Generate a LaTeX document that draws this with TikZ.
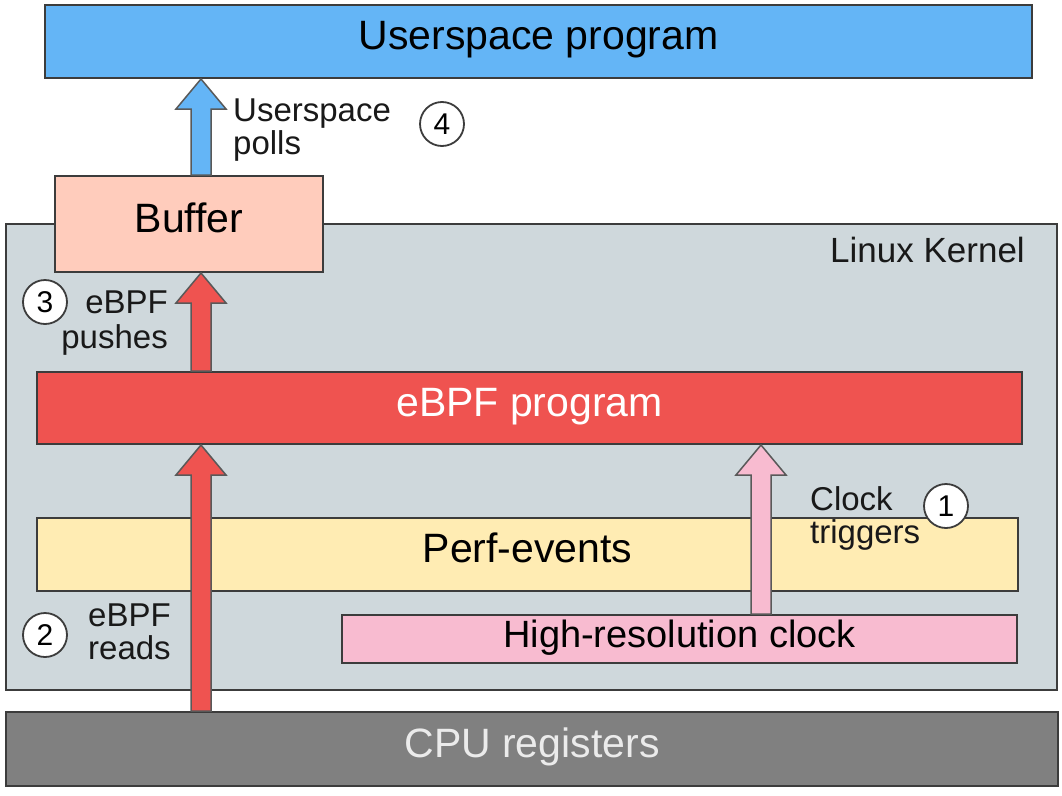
\documentclass[tikz,border=0pt]{standalone}
\usepackage{fontspec}
\setmainfont{Liberation Sans}
\usetikzlibrary{calc}

\definecolor{userblue}{HTML}{64B5F6}
\definecolor{buffersalmon}{HTML}{FFCCBC}
\definecolor{kernelgrey}{HTML}{CFD8DC}
\definecolor{ebpfred}{HTML}{EF5350}
\definecolor{perfyellow}{HTML}{FFECB3}
\definecolor{clockpink}{HTML}{F8BBD0}
\definecolor{cpugrey}{HTML}{808080}
\definecolor{edge}{HTML}{3C3C3C}

\newcommand\fatarrow[4]{%
  \filldraw [fill=#1, draw=edge!85, line width=1.5pt, line join=miter]
    let \p1=(#3.north), \p2=(#4.south) in
    ({#2pt-10pt},\y1) -- ({#2pt-10pt},{\y2-30pt}) -- ({#2pt-25pt},{\y2-30pt})
    -- ({#2pt},\y2) -- ({#2pt+25pt},{\y2-30pt}) -- ({#2pt+10pt},{\y2-30pt})
    -- ({#2pt+10pt},\y1) -- cycle;}

\begin{document}
\begin{tikzpicture}[x=1pt, y=-1pt,
    box/.style={draw=edge, line width=2pt, rectangle, inner sep=0pt, text height=30pt, text depth=14pt},
    big/.style={font=\fontsize{41}{45}\selectfont},
    lbl/.style={font=\fontsize{33}{33}\selectfont, inner sep=0pt, text=black!90},
    num/.style={draw=edge, line width=1.8pt, circle, fill=white, minimum size=44pt,
      inner sep=0pt, font=\fontsize{30}{30}\selectfont}]

    \useasboundingbox (0,0) rectangle (1062,795);

    \node [box, fill=kernelgrey, minimum width=1051, minimum height=466] (kernel) at (531.5,457) {};
    \node [lbl, font=\fontsize{35}{35}\selectfont, anchor=base east] (kernellbl) at (1025,262) {Linux Kernel};

    \node [box, big, fill=userblue, minimum width=987, minimum height=73] (user) at (538.5,41.5) {Userspace program};
    \node [box, big, fill=buffersalmon, minimum width=268, minimum height=96] (buffer) at (189,224) {Buffer};
    \node [box, big, fill=ebpfred, text=white, minimum width=985, minimum height=72] (ebpf) at (529.5,408) {eBPF program};
    \node [box, big, fill=perfyellow, minimum width=981, minimum height=73] (perf) at (527.5,554.5) {Perf-events};
    \node [box, fill=clockpink, font=\fontsize{38}{40}\selectfont, minimum width=675, minimum height=48] (clock) at (679.5,639) {High-resolution clock};
    \node [box, big, fill=cpugrey, text=black!8, minimum width=1052, minimum height=74] (cpu) at (532,749) {CPU registers};

    \fatarrow{userblue}{201}{buffer}{user}
    \fatarrow{ebpfred}{201}{ebpf}{buffer}
    \fatarrow{ebpfred}{201}{cpu}{ebpf}
    \fatarrow{clockpink}{761}{clock}{ebpf}

    \node [lbl, align=left, anchor=north west] (polls) at (233,99) {Userspace\\polls};
    \node [lbl, font=\fontsize{33}{35}\selectfont, align=right, anchor=north east] (pushes) at (168,291) {eBPF\\pushes};
    \node [lbl, align=center, anchor=north west] (reads) at (88,604) {eBPF\\reads};
    \node [lbl, align=left, anchor=north west] (triggers) at (810,486) {Clock\\triggers};

    \node [num] (c1) at (946,506) {1};
    \node [num] (c2) at (45,635) {2};
    \node [num] (c3) at (45,302) {3};
    \node [num] (c4) at (442,124) {4};

\end{tikzpicture}
\end{document}
